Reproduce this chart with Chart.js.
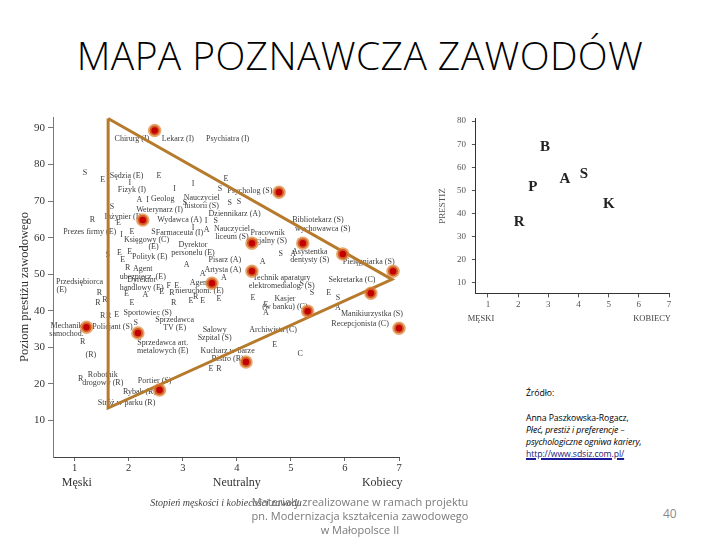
<!DOCTYPE html>
<html>
<head>
<meta charset="utf-8">
<script src="https://cdn.jsdelivr.net/npm/chart.js@4.4.0/dist/chart.umd.min.js"></script>
<style>
  body { margin: 0; width: 720px; height: 540px; background: #fff; position: relative; overflow: hidden; font-family: "Open Sans", sans-serif; }
  h1 { position: absolute; left: 0; top: 35px; width: 720px; margin: 0; text-align: center; font-weight: 300; font-size: 39px; line-height: 39px; color: #000; letter-spacing: 0.4px; }
  #main { position: absolute; left: 0; top: 100px; }
  #small { position: absolute; left: 430px; top: 105px; }
  .src { position: absolute; left: 526px; top: 387px; font-size: 8.7px; line-height: 12.3px; color: #000; letter-spacing: -0.1px; }
  .src a { color: #1b1b7a; text-decoration: underline; text-decoration-thickness: 2px; text-decoration-color: #1b1b9a; }
  .foot { position: absolute; left: 0; width: 720px; top: 495px; text-align: center; font-size: 11px; line-height: 14px; color: #7a7a7a; z-index: 2; }
  .page { position: absolute; left: 663px; top: 505px; font-size: 12px; color: #8a8a8a; }
</style>
</head>
<body>
<h1>MAPA POZNAWCZA ZAWODÓW</h1>
<canvas id="main" width="440" height="440"></canvas>
<canvas id="small" width="280" height="235"></canvas>
<div class="src">
  <div>Źródło:</div>
  <div>&nbsp;</div>
  <div>Anna Paszkowska-Rogacz,</div>
  <div><i>Płeć, prestiż i preferencje –</i></div>
  <div><i>psychologiczne ogniwa kariery,</i></div>
  <div><a>http://www.sdsiz.com.pl/</a></div>
</div>
<div class="foot">Materiały zrealizowane w ramach projektu<br>pn. Modernizacja kształcenia zawodowego<br>w Małopolsce II</div>
<div class="page">40</div>
<script>
// main map: degree of masculinity/femininity (x) vs prestige (y)
const mainTicksX = [1, 2, 3, 4, 5, 6, 7];
const mainTicksY = [10, 20, 30, 40, 50, 60, 70, 80, 90];
const axisWordNames = ["Męski", "Neutralny", "Kobiecy"];
const axisWordX = [1.04, 4.0, 6.69];

const triangleX = [1.62, 1.62, 6.87, 1.62];
const triangleY = [92.6, 13.4, 48.6, 92.6];

const dotX = [2.48, 4.78, 2.26, 4.28, 5.22, 5.96, 6.89, 4.28, 6.48, 3.54, 5.31, 7.0, 4.17, 1.22, 2.17, 2.57];
const dotY = [89.3, 72.4, 64.8, 58.5, 58.5, 55.5, 50.8, 50.8, 44.8, 47.5, 39.9, 35.2, 26.0, 35.5, 33.9, 18.3];

const jobNames = [
  "Chirurg (I)", "Lekarz (I)", "Psychiatra (I)", "Sędzia (E)", "Fizyk (I)", "Geolog",
  "Nauczyciel\nhistorii (S)", "Psycholog (S)", "Weterynarz (I)", "Inżynier (I)", "Wydawca (A)",
  "Dziennikarz (A)", "Prezes firmy (E)", "Farmaceuta (I)", "Księgowy (C)", "(E)",
  "Dyrektor\npersonelu (E)", "Nauczyciel\nliceum (S)", "Pracownik\nsocjalny (S)", "Bibliotekarz (S)",
  "wychowawca (S)", "Polityk (E)", "Pisarz (A)", "Asystentka\ndentysty (S)", "Pielęgniarka (S)",
  "Agent\nubezpiecz. (E)", "Artysta (A)", "Technik aparatury\nelektromedialog. (S)", "Przedsiębiorca", "(E)",
  "Dyrektor\nhandlowy (E)", "Agent\nnieruchom. (E)", "Sekretarka (C)", "Kasjer\n(w banku) (C)",
  "Sportowiec (S)", "Policjant (S)", "Mechanik\nsamochod.", "Sprzedawca\nTV (E)", "Salowy\nSzpital (S)",
  "Archiwista (C)", "Manikiurzystka (S)", "Recepcjonista (C)", "Sprzedawca art.\nmetalowych (E)",
  "Kucharz w barze\nBistro (R)", "Robotnik\ndrogowy (R)", "Portier (S)", "Rybak (R)", "Stróż w parku (R)", "(R)"
];
const jobX = [2.06, 2.91, 3.83, 1.96, 2.06, 2.63, 3.35, 4.24, 2.57, 1.89, 2.94, 3.96, 1.28, 2.94, 2.33, 2.46,
  3.19, 3.91, 4.57, 5.50, 5.59, 2.39, 3.78, 5.35, 6.44, 2.26, 3.74, 4.83, 1.09, 0.76, 2.24, 3.31, 6.13, 4.89,
  2.35, 1.70, 0.85, 2.85, 3.59, 4.67, 6.50, 6.28, 2.63, 3.83, 1.52, 2.48, 2.20, 1.96, 1.30];
const jobY = [86.9, 86.9, 86.9, 77.0, 73.0, 70.5, 71.0, 72.7, 67.5, 65.8, 64.8, 66.4, 61.7, 61.2, 59.3, 57.4,
  57.9, 62.3, 61.2, 64.8, 62.3, 54.6, 53.8, 56.0, 53.3, 51.4, 51.1, 48.9, 47.8, 45.6, 48.4, 47.5, 48.4, 43.2,
  39.3, 35.5, 35.8, 37.4, 34.7, 34.7, 39.1, 36.3, 31.1, 29.0, 22.4, 20.8, 17.8, 14.8, 27.9];

const codeLetters = ["S", "E", "E", "I", "I", "I", "E", "A", "I", "S", "S", "S", "S", "S", "R", "E", "I", "S",
  "I", "E", "S", "I", "A", "S", "E", "E", "E", "A", "A", "R", "A", "A", "S", "S", "A", "R", "R", "R", "E", "A",
  "E", "F", "E", "R", "E", "R", "E", "E", "E", "R", "E", "E", "A", "S", "E", "S", "A", "R", "R", "E", "S", "R",
  "E", "C", "E", "R", "R"];
const codeX = [1.19, 1.52, 2.56, 2.02, 2.85, 3.19, 3.80, 2.20, 2.35, 3.04, 3.69, 3.87, 4.04, 1.69, 1.33, 1.81, 3.43, 3.61,
  1.87, 2.06, 2.46, 3.19, 3.44, 1.61, 1.83, 2.02, 1.89, 4.48, 3.07, 1.98, 3.37, 3.76, 5.20, 4.81, 5.04, 1.46, 1.43, 1.56, 1.96, 2.31,
  2.61, 2.74, 2.89, 2.80, 3.15, 3.24, 3.37, 3.67, 2.06, 2.83, 4.30, 4.54, 4.54, 5.39, 5.70, 5.87, 5.87, 1.52, 1.63, 1.78, 2.13, 1.15,
  4.70, 5.17, 3.52, 3.67, 1.11];
const codeY = [77.6, 75.7, 76.8, 75.1, 73.2, 74.6, 76.0, 70.2, 70.2, 69.4, 73.2, 69.4, 69.9, 68.3, 64.8, 63.9, 64.6, 64.6,
  60.7, 61.5, 61.7, 62.8, 62.0, 55.2, 55.7, 56.0, 53.8, 53.3, 52.5, 51.6, 50.0, 48.9, 47.3, 55.5, 55.5, 44.8, 42.1, 42.9, 44.5, 44.3,
  45.1, 46.7, 46.7, 44.8, 42.6, 43.7, 42.6, 43.2, 42.1, 42.1, 43.4, 41.5, 39.3, 44.8, 44.8, 43.4, 40.7, 38.5, 38.5, 38.8, 36.6, 31.4,
  30.6, 28.1, 24.0, 24.0, 21.3];

// small inset: group centroids
const smallTicksX = [1, 2, 3, 4, 5, 6, 7];
const smallTicksY = [10, 20, 30, 40, 50, 60, 70, 80];
const groupLetters = ["B", "P", "A", "S", "K", "R"];
const groupX = [2.89, 2.49, 3.55, 4.18, 5.01, 2.03];
const groupY = [68.5, 51.4, 54.8, 57.1, 44.1, 36.1];
const smallEndNames = ["MĘSKI", "KOBIECY"];
const smallEndX = [0.77, 6.44];

const SERIF = '"Liberation Serif", "DejaVu Serif", serif';
Chart.defaults.font.family = SERIF;

const pts = (xs, ys) => xs.map((x, i) => ({ x, y: ys[i] }));

const jobLabels = {
  id: "jobLabels",
  beforeDatasetsDraw(chart) {
    const { ctx, scales: { x, y } } = chart;
    ctx.save();
    ctx.textAlign = "center";
    ctx.textBaseline = "middle";
    ctx.fillStyle = "#3c3c3c";
    ctx.font = "8px " + SERIF;
    jobNames.forEach((name, i) => {
      const px = x.getPixelForValue(jobX[i]);
      const py = y.getPixelForValue(jobY[i]);
      name.split("\n").forEach((line, k) => ctx.fillText(line, px, py + k * 8));
    });
    codeLetters.forEach((c, i) => {
      ctx.fillText(c, x.getPixelForValue(codeX[i]), y.getPixelForValue(codeY[i]));
    });
    ctx.fillStyle = "#333";
    ctx.font = "12px " + SERIF;
    axisWordNames.forEach((w, i) => ctx.fillText(w, x.getPixelForValue(axisWordX[i]), y.bottom + 26));
    ctx.restore();
  }
};

new Chart(document.getElementById("main"), {
  type: "scatter",
  data: {
    datasets: [
      {
        data: pts(triangleX, triangleY),
        showLine: true,
        borderColor: "#b57a2c",
        borderWidth: 3,
        pointRadius: 0,
        clip: false,
        order: 2
      },
      {
        data: pts(dotX, dotY),
        backgroundColor: "#c30000",
        borderColor: "rgba(220,130,50,0.7)",
        borderWidth: 3.5,
        pointRadius: 5,
        clip: false,
        order: 1
      }
    ]
  },
  options: {
    responsive: false,
    animation: false,
    layout: { padding: { left: 0, top: 17, right: 41, bottom: 0 } },
    plugins: { legend: { display: false }, tooltip: { enabled: false } },
    scales: {
      x: {
        type: "linear",
        min: 0.6,
        max: 7,
        afterBuildTicks: (s) => { s.ticks = mainTicksX.map((v) => ({ value: v })); },
        afterFit: (s) => { s.height = 83; },
        ticks: { color: "#333", font: { size: 10.5 }, padding: 1 },
        grid: { drawOnChartArea: false, tickLength: 4, color: "#666" },
        border: { color: "#444", width: 1 },
        title: {
          display: true,
          text: "Stopień męskości i kobiecości zawodu",
          color: "#444",
          font: { size: 10, style: "italic" },
          padding: { top: 0, bottom: 31 }
        }
      },
      y: {
        min: 0,
        max: 93,
        afterBuildTicks: (s) => { s.ticks = mainTicksY.map((v) => ({ value: v })); },
        afterFit: (s) => { s.width = 53; },
        ticks: { color: "#333", font: { size: 11 }, padding: 3 },
        grid: { drawOnChartArea: false, tickLength: 5, color: "#777" },
        border: { color: "#777", width: 1 },
        title: {
          display: true,
          text: "Poziom prestiżu zawodowego",
          color: "#333",
          font: { size: 12.5 },
          padding: { top: 17.5, bottom: 0 }
        }
      }
    }
  },
  plugins: [jobLabels]
});

const groupLabels = {
  id: "groupLabels",
  afterDatasetsDraw(chart) {
    const { ctx, scales: { x, y } } = chart;
    const meta = chart.getDatasetMeta(0);
    ctx.save();
    ctx.textAlign = "center";
    ctx.textBaseline = "middle";
    ctx.fillStyle = "#222";
    ctx.font = "bold 15px " + SERIF;
    meta.data.forEach((el, i) => ctx.fillText(groupLetters[i], el.x, el.y));
    ctx.fillStyle = "#444";
    ctx.font = "8.5px " + SERIF;
    smallEndNames.forEach((w, i) => ctx.fillText(w, x.getPixelForValue(smallEndX[i]), y.bottom + 25));
    ctx.restore();
  }
};

new Chart(document.getElementById("small"), {
  type: "scatter",
  data: { datasets: [{ data: pts(groupX, groupY), pointRadius: 0 }] },
  options: {
    responsive: false,
    animation: false,
    layout: { padding: { left: 0, top: 13.7, right: 41, bottom: 0 } },
    plugins: { legend: { display: false }, tooltip: { enabled: false } },
    scales: {
      x: {
        type: "linear",
        min: 0.6,
        max: 7,
        afterBuildTicks: (s) => { s.ticks = smallTicksX.map((v) => ({ value: v })); },
        afterFit: (s) => { s.height = 46.6; },
        ticks: { color: "#555", font: { size: 9 }, padding: 2 },
        grid: { drawOnChartArea: false, tickLength: 4, color: "#555" },
        border: { color: "#333", width: 1 }
      },
      y: {
        min: 5.5,
        max: 81,
        afterBuildTicks: (s) => { s.ticks = smallTicksY.map((v) => ({ value: v })); },
        afterFit: (s) => { s.width = 45.9; },
        ticks: { color: "#555", font: { size: 9 }, padding: 6 },
        grid: { drawOnChartArea: false, tickLength: 4, color: "#555" },
        border: { color: "#333", width: 1 },
        title: {
          display: true,
          text: "PRESTIŻ",
          color: "#555",
          font: { size: 9 },
          padding: { top: 7.6, bottom: 0 }
        }
      }
    }
  },
  plugins: [groupLabels]
});
</script>
</body>
</html>
